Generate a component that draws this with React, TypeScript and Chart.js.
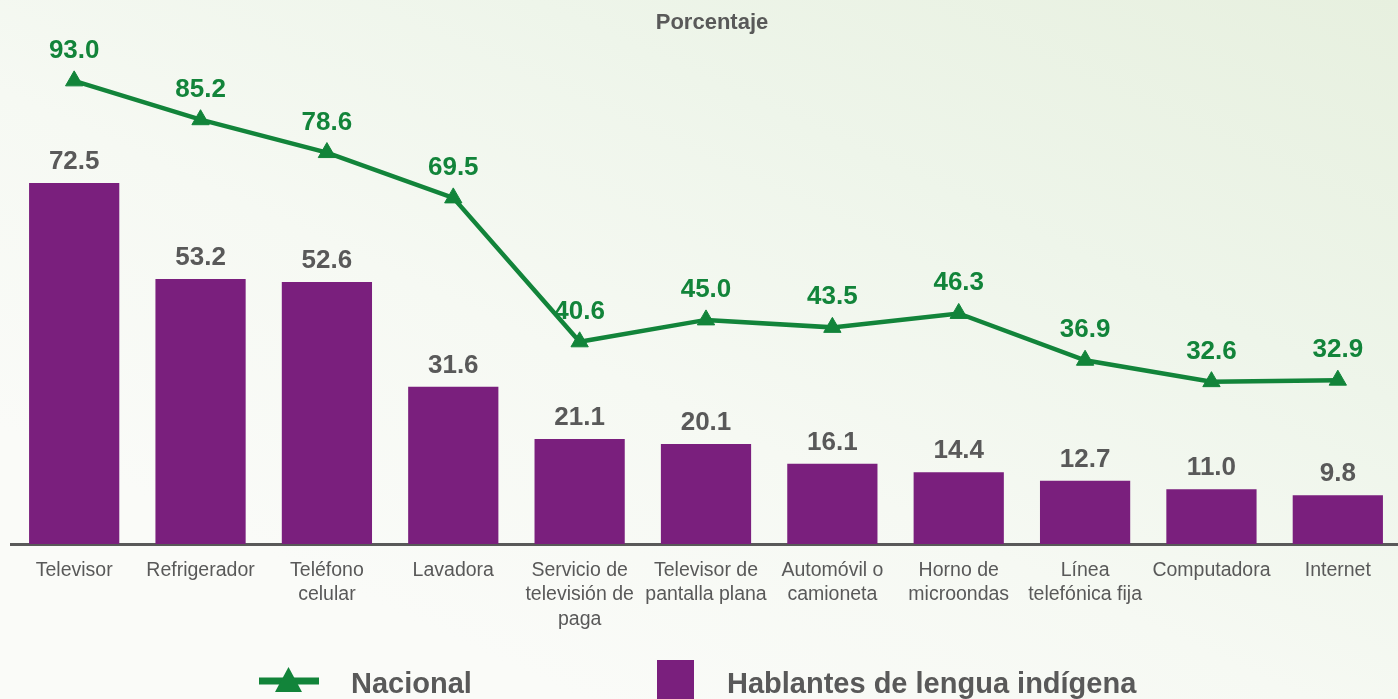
import React, { useEffect, useRef } from "react";
import { Chart, registerables } from "chart.js";

Chart.register(...registerables);

const categories: (string | string[])[] = [
  "Televisor",
  "Refrigerador",
  ["Teléfono", "celular"],
  "Lavadora",
  ["Servicio de", "televisión de", "paga"],
  ["Televisor de", "pantalla plana"],
  ["Automóvil o", "camioneta"],
  ["Horno de", "microondas"],
  ["Línea", "telefónica fija"],
  "Computadora",
  "Internet",
];
const nacional = [93.0, 85.2, 78.6, 69.5, 40.6, 45.0, 43.5, 46.3, 36.9, 32.6, 32.9];
const hablantes = [72.5, 53.2, 52.6, 31.6, 21.1, 20.1, 16.1, 14.4, 12.7, 11.0, 9.8];
const seriesNames = ["Nacional", "Hablantes de lengua indígena"];
const titleText = "Porcentaje";

const GREEN = "#12843A";
const PURPLE = "#7A1F7D";
const GRAY = "#595959";
const FONT = "'Liberation Sans', Arial, sans-serif";

const labelsPlugin = {
  id: "valueLabels",
  afterDatasetsDraw(chart: any) {
    const ctx = chart.ctx;
    ctx.save();
    ctx.textAlign = "center";
    ctx.textBaseline = "alphabetic";
    ctx.font = `bold 26px ${FONT}`;
    chart.data.datasets.forEach((ds: any, i: number) => {
      const meta = chart.getDatasetMeta(i);
      meta.data.forEach((el: any, j: number) => {
        const v = ds.data[j] as number;
        const txt = v.toFixed(1);
        if (ds.type === "line") {
          ctx.fillStyle = GREEN;
          ctx.fillText(txt, el.x, el.y - 23);
        } else {
          ctx.fillStyle = GRAY;
          ctx.fillText(txt, el.x, el.y - 14);
        }
      });
    });
    ctx.restore();
  },
};

const decorPlugin = {
  id: "decor",
  afterDraw(chart: any) {
    const ctx = chart.ctx;
    ctx.save();
    // title
    ctx.fillStyle = GRAY;
    ctx.font = `bold 22px ${FONT}`;
    ctx.textAlign = "center";
    ctx.textBaseline = "alphabetic";
    ctx.fillText(titleText, 712, 29);

    // legend: Nacional
    ctx.strokeStyle = GREEN;
    ctx.lineWidth = 7;
    ctx.beginPath();
    ctx.moveTo(259, 681);
    ctx.lineTo(319, 681);
    ctx.stroke();
    ctx.fillStyle = GREEN;
    ctx.beginPath();
    ctx.moveTo(288.5, 667);
    ctx.lineTo(302, 692);
    ctx.lineTo(275, 692);
    ctx.closePath();
    ctx.fill();
    ctx.fillStyle = GRAY;
    ctx.font = `bold 29px ${FONT}`;
    ctx.textAlign = "left";
    ctx.fillText(seriesNames[0], 351, 693);

    // legend: Hablantes
    ctx.fillStyle = PURPLE;
    ctx.fillRect(657, 660, 37, 40);
    ctx.fillStyle = GRAY;
    ctx.fillText(seriesNames[1], 727, 693);
    ctx.restore();
  },
};

export default function App() {
  const ref = useRef<HTMLCanvasElement>(null);
  useEffect(() => {
    if (!ref.current) return;
    const chart = new Chart(ref.current, {
      type: "bar",
      data: {
        labels: categories,
        datasets: [
          {
            type: "line",
            label: seriesNames[0],
            data: nacional,
            borderColor: GREEN,
            backgroundColor: GREEN,
            borderWidth: 4.5,
            pointStyle: "triangle",
            pointRadius: 10,
            pointBorderWidth: 1,
            pointBackgroundColor: GREEN,
            pointBorderColor: GREEN,
            tension: 0,
            order: 0,
          } as any,
          {
            type: "bar",
            label: seriesNames[1],
            data: hablantes,
            backgroundColor: PURPLE,
            barPercentage: 0.714,
            categoryPercentage: 1,
            order: 1,
          },
        ],
      },
      options: {
        responsive: false,
        animation: false,
        layout: { padding: { left: 9.5, right: 6.5, top: 46, bottom: 0 } },
        plugins: {
          legend: { display: false },
          title: { display: false },
          tooltip: { enabled: false },
        },
        scales: {
          x: {
            z: 1,
            grid: { display: false, drawTicks: false },
            border: { display: true, color: GRAY, width: 3 },
            ticks: {
              color: GRAY,
              font: { family: FONT, size: 19.5, lineHeight: 1.26 },
              padding: 14,
              maxRotation: 0,
              autoSkip: false,
            },
            afterFit: (scale: any) => {
              scale.height = 155;
            },
          },
          y: {
            display: false,
            min: 0,
            max: 100,
          },
        },
      },
      plugins: [labelsPlugin, decorPlugin],
    });
    return () => chart.destroy();
  }, []);

  return (
    <div
      style={{
        position: "absolute",
        left: 0,
        top: 0,
        width: 1398,
        height: 699,
        overflow: "hidden",
        background:
          "linear-gradient(205deg, #E7F0DF 0%, #EEF5EA 30%, #F6F9F3 55%, #FAFBF8 80%)",
      }}
    >
      <canvas ref={ref} width={1412} height={699} style={{ display: "block" }} />
    </div>
  );
}
